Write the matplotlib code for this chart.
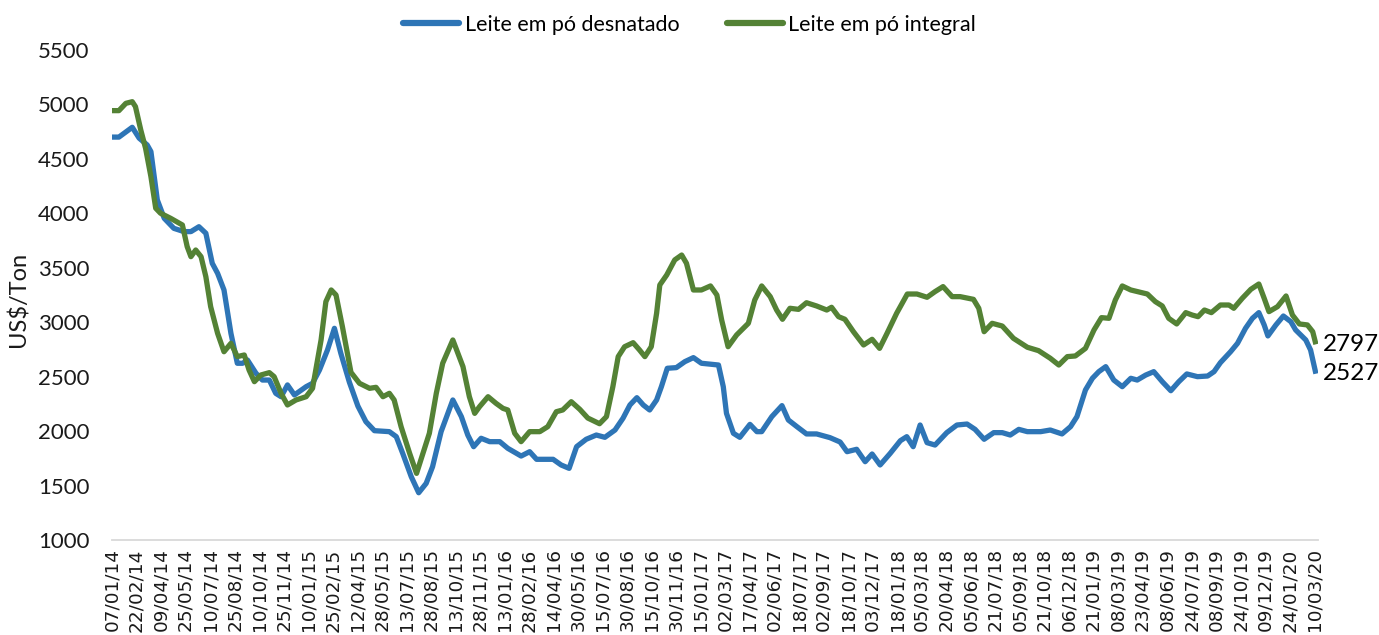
import matplotlib
matplotlib.use("Agg")
import matplotlib.pyplot as plt
import matplotlib.dates as mdates
import pandas as pd

# --- dados (US$/Ton) ---
datas_desnatado = [
    "2014-01-07", "2014-01-20", "2014-02-14", "2014-02-27", "2014-03-14", "2014-03-21",
    "2014-04-02", "2014-04-15", "2014-05-03", "2014-05-22", "2014-06-04", "2014-06-19",
    "2014-07-02", "2014-07-14", "2014-07-24", "2014-08-05", "2014-08-18", "2014-08-30",
    "2014-09-09", "2014-09-18", "2014-10-04", "2014-10-16", "2014-10-29", "2014-11-10",
    "2014-11-20", "2014-12-02", "2014-12-15", "2015-01-06", "2015-01-18", "2015-01-31",
    "2015-02-15", "2015-02-28", "2015-03-12", "2015-03-28", "2015-04-13", "2015-04-28",
    "2015-05-14", "2015-06-11", "2015-06-24", "2015-07-06", "2015-07-22", "2015-08-05",
    "2015-08-19", "2015-08-31", "2015-09-16", "2015-10-08", "2015-10-24", "2015-11-05",
    "2015-11-16", "2015-11-30", "2015-12-16", "2016-01-04", "2016-01-19", "2016-02-13",
    "2016-02-29", "2016-03-13", "2016-04-13", "2016-04-28", "2016-05-13", "2016-05-27",
    "2016-06-14", "2016-07-03", "2016-07-19", "2016-08-07", "2016-08-22", "2016-09-04",
    "2016-09-17", "2016-09-29", "2016-10-11", "2016-10-24", "2016-11-02", "2016-11-13",
    "2016-11-30", "2016-12-16", "2017-01-01", "2017-01-16", "2017-02-17", "2017-02-26",
    "2017-03-04", "2017-03-17", "2017-03-29", "2017-04-17", "2017-04-30", "2017-05-09",
    "2017-05-28", "2017-06-16", "2017-06-28", "2017-07-14", "2017-08-01", "2017-08-20",
    "2017-09-14", "2017-10-03", "2017-10-16", "2017-11-03", "2017-11-19", "2017-12-02",
    "2017-12-17", "2018-01-05", "2018-01-24", "2018-02-05", "2018-02-17", "2018-03-02",
    "2018-03-15", "2018-03-30", "2018-04-21", "2018-05-10", "2018-05-29", "2018-06-13",
    "2018-06-30", "2018-07-18", "2018-08-03", "2018-08-18", "2018-09-03", "2018-09-19",
    "2018-10-14", "2018-11-01", "2018-11-23", "2018-12-09", "2018-12-21", "2019-01-06",
    "2019-01-19", "2019-01-31", "2019-02-13", "2019-02-28", "2019-03-16", "2019-04-01",
    "2019-04-13", "2019-04-29", "2019-05-14", "2019-05-30", "2019-06-15", "2019-06-30",
    "2019-07-15", "2019-08-04", "2019-08-23", "2019-09-04", "2019-09-16", "2019-10-05",
    "2019-10-18", "2019-11-02", "2019-11-15", "2019-11-27", "2019-12-07", "2019-12-14",
    "2019-12-29", "2020-01-12", "2020-01-26", "2020-02-04", "2020-02-23", "2020-03-03",
    "2020-03-13",
]
precos_desnatado = [
    4700, 4700, 4790, 4690, 4628, 4567,
    4123, 3954, 3862, 3832, 3832, 3877,
    3817, 3541, 3449, 3296, 2898, 2623,
    2623, 2653, 2531, 2469, 2469, 2347,
    2316, 2424, 2332, 2408, 2439, 2561,
    2745, 2944, 2715, 2450, 2230, 2087,
    2004, 1995, 1949, 1796, 1582, 1434,
    1520, 1673, 1995, 2286, 2133, 1964,
    1857, 1934, 1903, 1903, 1842, 1771,
    1811, 1741, 1741, 1689, 1658, 1857,
    1925, 1964, 1943, 2010, 2118, 2240,
    2307, 2240, 2194, 2286, 2408, 2577,
    2583, 2638, 2675, 2623, 2607, 2408,
    2163, 1980, 1943, 2062, 1995, 1995,
    2133, 2234, 2102, 2041, 1974, 1974,
    1940, 1900, 1811, 1833, 1719, 1790,
    1689, 1796, 1912, 1949, 1857, 2056,
    1894, 1872, 1986, 2056, 2065, 2016,
    1925, 1986, 1986, 1964, 2016, 1995,
    1995, 2010, 1974, 2041, 2133, 2378,
    2485, 2546, 2592, 2469, 2408, 2485,
    2469, 2515, 2546, 2454, 2371, 2454,
    2525, 2500, 2506, 2546, 2629, 2729,
    2806, 2944, 3036, 3088, 2975, 2874,
    2975, 3057, 3005, 2929, 2837, 2745,
    2527,
]

datas_integral = [
    "2014-01-07", "2014-01-20", "2014-02-02", "2014-02-14", "2014-02-20", "2014-03-02",
    "2014-03-11", "2014-03-21", "2014-03-30", "2014-04-08", "2014-04-27", "2014-05-19",
    "2014-05-28", "2014-06-04", "2014-06-13", "2014-06-23", "2014-07-02", "2014-07-11",
    "2014-07-24", "2014-08-05", "2014-08-18", "2014-08-30", "2014-09-12", "2014-09-21",
    "2014-10-01", "2014-10-13", "2014-10-29", "2014-11-07", "2014-11-20", "2014-12-02",
    "2014-12-18", "2015-01-06", "2015-01-18", "2015-02-03", "2015-02-12", "2015-02-22",
    "2015-03-03", "2015-03-15", "2015-03-31", "2015-04-16", "2015-05-05", "2015-05-17",
    "2015-05-30", "2015-06-11", "2015-06-20", "2015-07-03", "2015-07-19", "2015-08-01",
    "2015-08-13", "2015-08-25", "2015-09-07", "2015-09-19", "2015-10-08", "2015-10-27",
    "2015-11-08", "2015-11-18", "2015-11-27", "2015-12-13", "2015-12-28", "2016-01-10",
    "2016-01-19", "2016-02-01", "2016-02-13", "2016-02-29", "2016-03-19", "2016-04-03",
    "2016-04-19", "2016-05-01", "2016-05-17", "2016-06-02", "2016-06-17", "2016-07-09",
    "2016-07-22", "2016-08-03", "2016-08-13", "2016-08-25", "2016-09-10", "2016-09-22",
    "2016-10-02", "2016-10-14", "2016-10-24", "2016-10-30", "2016-11-12", "2016-11-27",
    "2016-12-10", "2016-12-19", "2017-01-01", "2017-01-16", "2017-02-02", "2017-02-14",
    "2017-02-23", "2017-03-07", "2017-03-23", "2017-04-14", "2017-04-26", "2017-05-09",
    "2017-05-25", "2017-06-06", "2017-06-17", "2017-07-01", "2017-07-17", "2017-08-01",
    "2017-08-20", "2017-09-08", "2017-09-17", "2017-09-30", "2017-10-12", "2017-10-28",
    "2017-11-16", "2017-12-02", "2017-12-16", "2017-12-30", "2018-01-17", "2018-02-06",
    "2018-02-24", "2018-03-15", "2018-03-30", "2018-04-14", "2018-05-01", "2018-05-16",
    "2018-06-10", "2018-06-20", "2018-06-30", "2018-07-15", "2018-08-03", "2018-08-24",
    "2018-09-19", "2018-10-10", "2018-11-01", "2018-11-17", "2018-12-03", "2018-12-18",
    "2019-01-06", "2019-01-22", "2019-02-05", "2019-02-19", "2019-03-03", "2019-03-16",
    "2019-04-01", "2019-05-02", "2019-05-17", "2019-05-30", "2019-06-11", "2019-06-26",
    "2019-07-13", "2019-07-25", "2019-08-05", "2019-08-17", "2019-08-30", "2019-09-16",
    "2019-10-02", "2019-10-11", "2019-10-27", "2019-11-12", "2019-11-27", "2019-12-07",
    "2019-12-16", "2020-01-01", "2020-01-17", "2020-01-29", "2020-02-11", "2020-02-26",
    "2020-03-07", "2020-03-13",
]
precos_integral = [
    4943, 4943, 5010, 5025, 4980, 4765,
    4597, 4337, 4047, 4001, 3954, 3893,
    3694, 3602, 3663, 3602, 3418, 3143,
    2898, 2729, 2806, 2684, 2699, 2561,
    2454, 2515, 2537, 2500, 2347, 2240,
    2286, 2316, 2393, 2837, 3189, 3296,
    3250, 2959, 2540, 2439, 2393, 2402,
    2316, 2347, 2286, 2041, 1796, 1612,
    1796, 1980, 2347, 2623, 2837, 2592,
    2316, 2163, 2224, 2316, 2255, 2209,
    2194, 1980, 1903, 1995, 1995, 2041,
    2178, 2194, 2270, 2200, 2120, 2068,
    2133, 2408, 2684, 2775, 2812, 2745,
    2684, 2775, 3082, 3342, 3434, 3572,
    3617, 3541, 3296, 3296, 3333, 3250,
    3020, 2775, 2883, 2990, 3204, 3333,
    3235, 3112, 3027, 3128, 3118, 3179,
    3149, 3112, 3137, 3051, 3027, 2913,
    2791, 2843, 2760, 2898, 3082, 3259,
    3259, 3229, 3281, 3327, 3235, 3235,
    3210, 3128, 2913, 2990, 2965, 2852,
    2770, 2739, 2669, 2607, 2684, 2690,
    2760, 2929, 3042, 3036, 3204, 3333,
    3296, 3259, 3189, 3149, 3036, 2984,
    3088, 3066, 3051, 3112, 3088, 3158,
    3158, 3128, 3220, 3302, 3351, 3220,
    3097, 3143, 3241, 3066, 2984, 2975,
    2913, 2797,
]

rotulos_series = ["Leite em pó desnatado", "Leite em pó integral"]
cores = ["#2E75B6", "#548235"]

# datas dos rótulos do eixo x (eixo de datas do Excel, passo de 46 dias)
inicio_eixo = "2014-01-07"
fim_eixo = "2020-03-17"
datas_ticks = pd.date_range(inicio_eixo, "2020-03-10", freq="46D")

fonte_texto = ["Lato", "DejaVu Sans"]

fig = plt.figure(figsize=(13.79, 6.35), dpi=100)
ax = fig.add_axes([0.0812, 0.1496, 0.8746, 0.7717])

x_desn = pd.to_datetime(datas_desnatado)
x_int = pd.to_datetime(datas_integral)

ax.plot(x_desn, precos_desnatado, color=cores[0], lw=3.8,
        solid_joinstyle="round", solid_capstyle="butt", label=rotulos_series[0], zorder=3)
ax.plot(x_int, precos_integral, color=cores[1], lw=3.8,
        solid_joinstyle="round", solid_capstyle="butt", label=rotulos_series[1], zorder=3)

# eixos
ax.set_xlim(pd.Timestamp(inicio_eixo), pd.Timestamp(fim_eixo))
ax.set_ylim(1000, 5500)
ax.set_yticks(range(1000, 5501, 500))
ax.set_xticks(datas_ticks)
ax.xaxis.set_major_formatter(mdates.DateFormatter("%d/%m/%y"))
ax.tick_params(axis="x", length=0, pad=6, labelsize=13.3, labelrotation=90)
ax.tick_params(axis="y", length=0, pad=16)
for lbl in ax.get_xticklabels():
    lbl.set_family("DejaVu Sans")
    lbl.set_color("#1a1a1a")
for lbl in ax.get_yticklabels():
    lbl.set_family(fonte_texto)
    lbl.set_fontsize(16)
    lbl.set_color("#1a1a1a")

for s in ["top", "right", "left"]:
    ax.spines[s].set_visible(False)
ax.spines["bottom"].set_color("#D9D9D9")
ax.spines["bottom"].set_linewidth(1.3)

ax.set_ylabel("US$/Ton", family=fonte_texto, fontsize=17, color="#1a1a1a")
ax.yaxis.set_label_coords(-0.068, 0.49)

# valores finais
ax.annotate(f"{precos_integral[-1]}", xy=(x_int[-1], precos_integral[-1]),
            xytext=(5, 0), textcoords="offset points", va="center", ha="left",
            family=fonte_texto, fontsize=17.5, color="black", annotation_clip=False)
ax.annotate(f"{precos_desnatado[-1]}", xy=(x_desn[-1], precos_desnatado[-1]),
            xytext=(5, 0), textcoords="offset points", va="center", ha="left",
            family=fonte_texto, fontsize=17.5, color="black", annotation_clip=False)

leg = fig.legend(loc="center", bbox_to_anchor=(0.5, 0.961), ncol=2, frameon=False,
                 prop={"family": fonte_texto, "size": 15.5}, handlelength=2.6,
                 handletextpad=0.25, columnspacing=2.2)
for h in leg.get_lines():
    h.set_linewidth(4.5)
    h.set_solid_capstyle("round")

fig.savefig("out.png", dpi=100, facecolor="white")
